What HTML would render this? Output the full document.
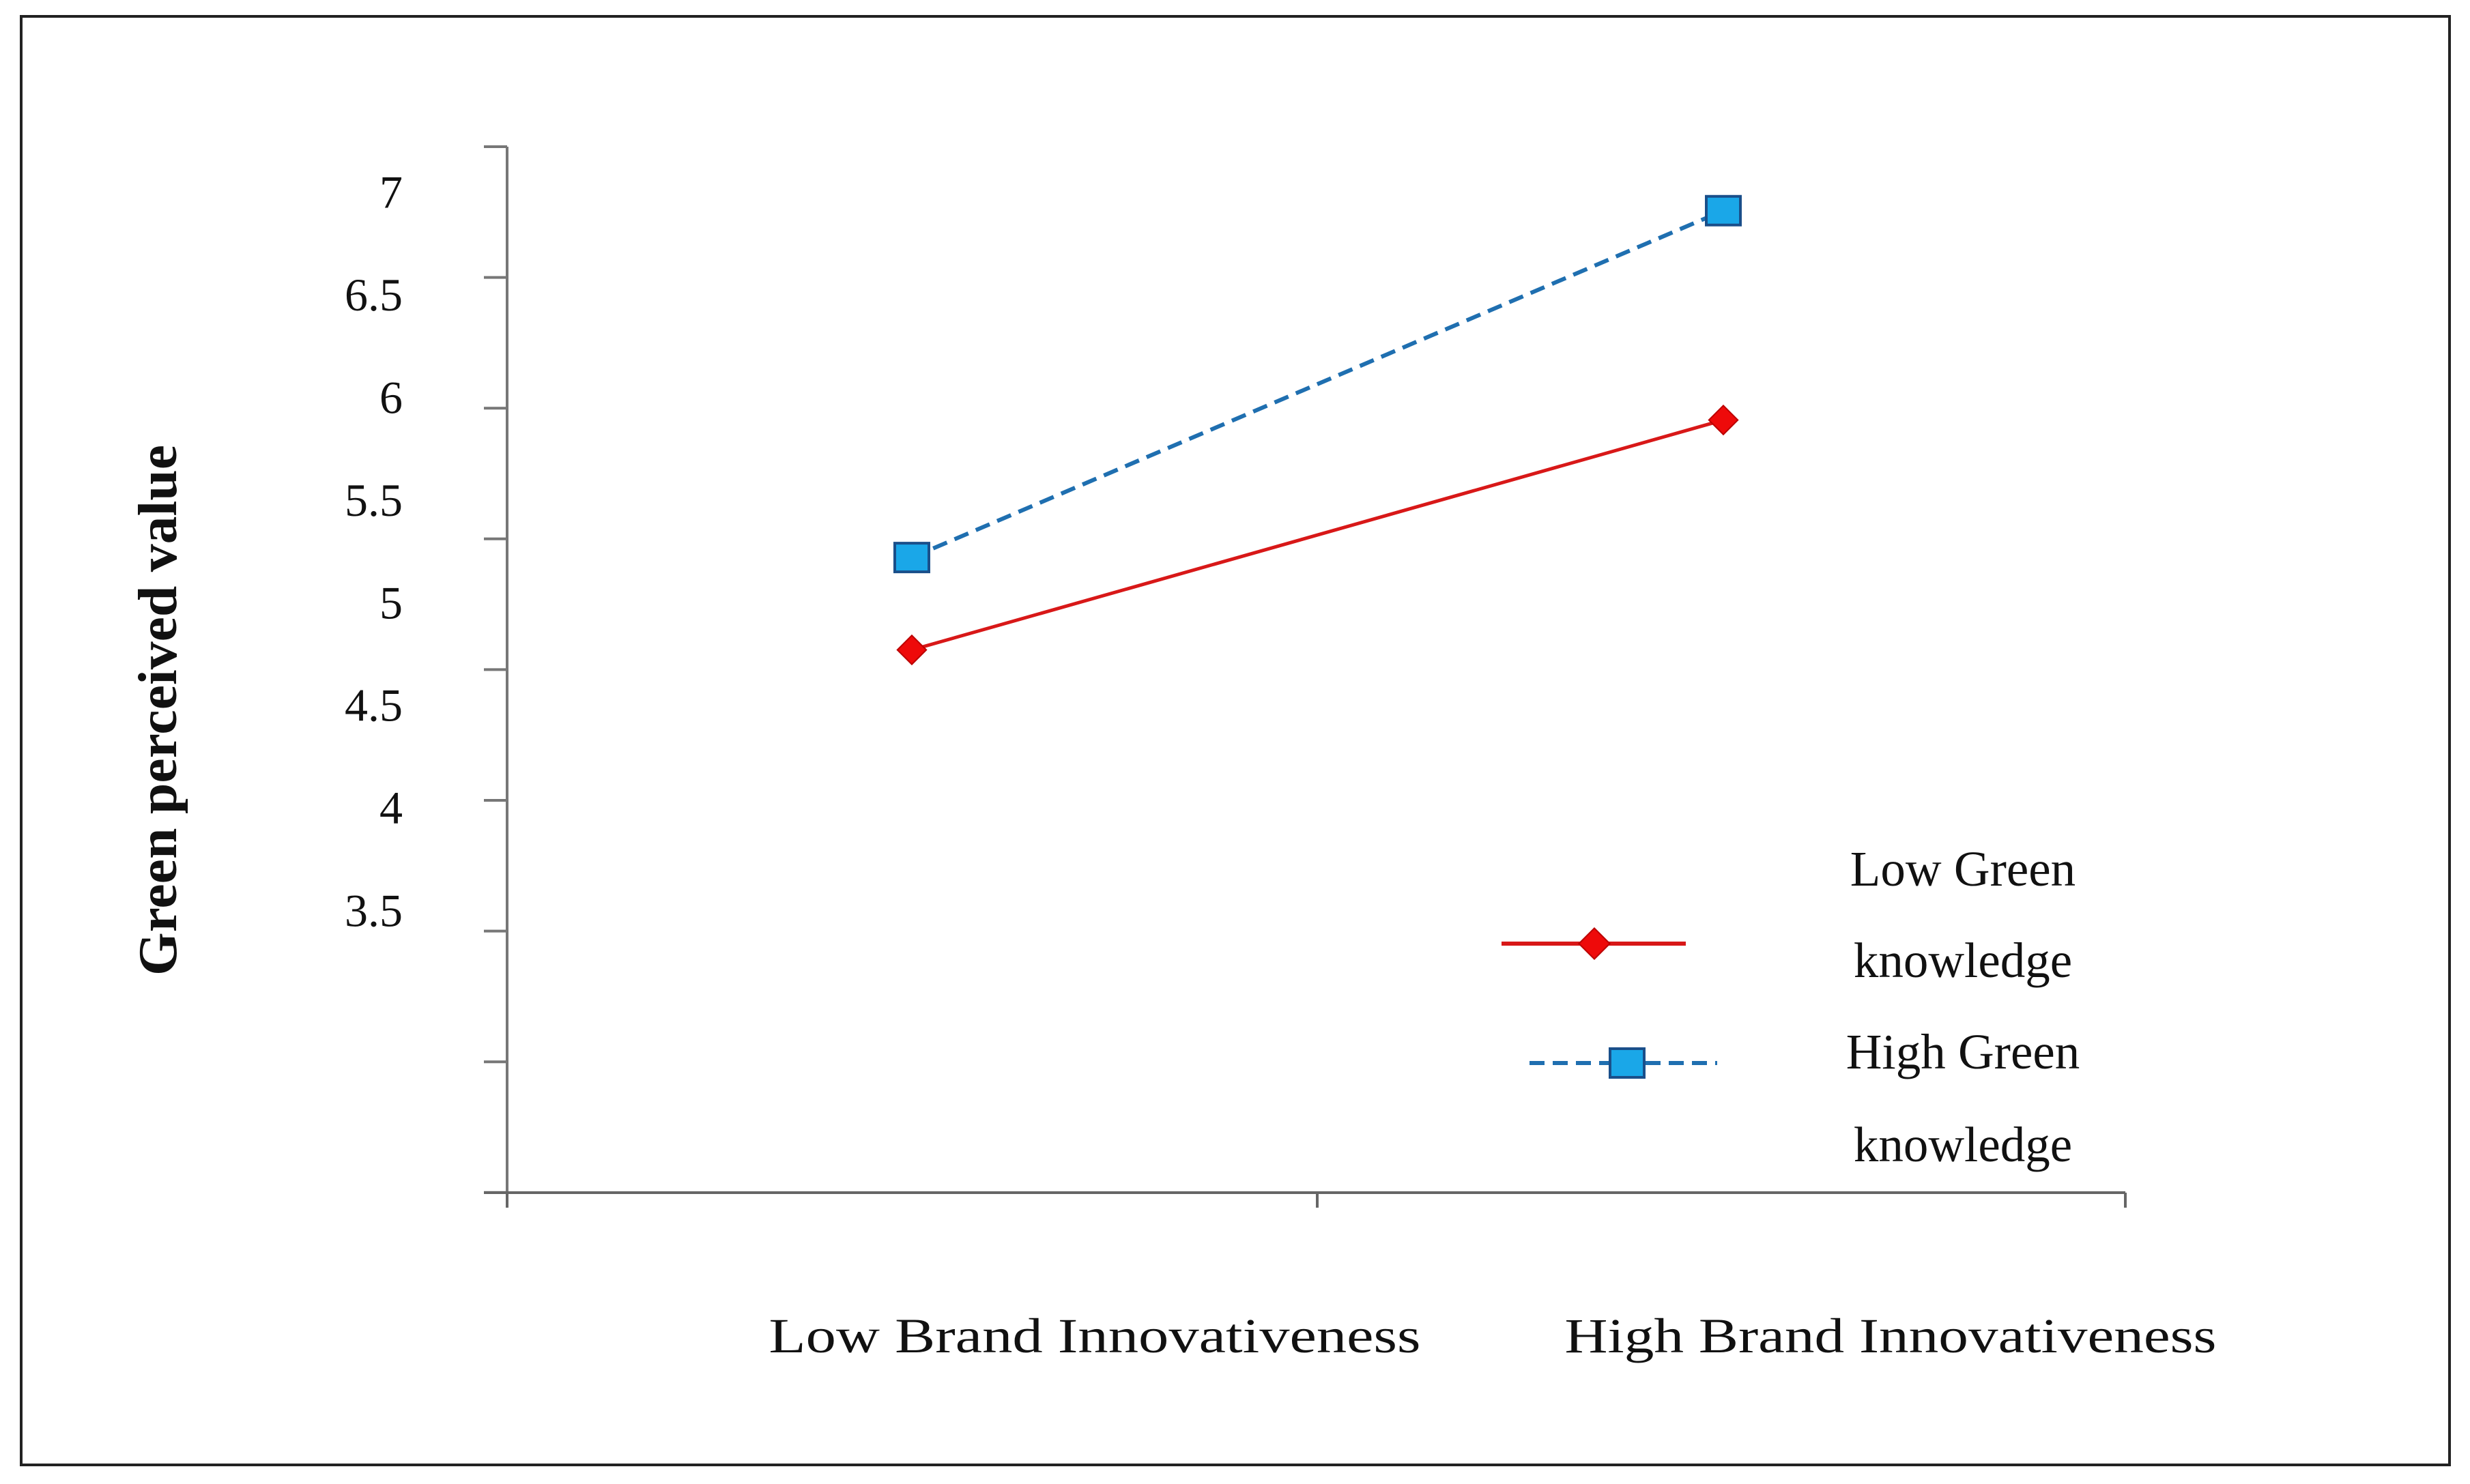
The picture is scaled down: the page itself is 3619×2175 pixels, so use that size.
<!DOCTYPE html>
<html><head><meta charset="utf-8"><style>
html,body{margin:0;padding:0;background:#fff;}
svg{display:block;font-family:"Liberation Serif",serif;}
</style></head><body>
<svg id="chart" width="3619" height="2175" viewBox="0 0 3619 2175" xmlns="http://www.w3.org/2000/svg">
<rect x="31" y="24" width="3558" height="2123" fill="#fff" stroke="#222" stroke-width="4"/>
<g id="axes"></g>
<g id="series"></g>
<text transform="translate(258,1041) rotate(-90)" text-anchor="middle" font-size="80" font-weight="bold" fill="#111" textLength="778" lengthAdjust="spacingAndGlyphs">Green perceived value</text>
<g>
  <line x1="2200" y1="1383" x2="2470" y2="1383" stroke="#d81818" stroke-width="6"/>
  <rect x="2320" y="1367" width="32" height="32" fill="#ee0a0a" stroke="#b00" stroke-width="2" transform="rotate(45 2336 1383)"/>
  <line x1="2241" y1="1558" x2="2516" y2="1558" stroke="#1f6fb0" stroke-width="6" stroke-dasharray="22,12"/>
  <rect x="2359" y="1537" width="50" height="42" fill="#1aa7e8" stroke="#1a4f8a" stroke-width="4"/>
  <text x="2876" y="1298" text-anchor="middle" font-size="73" fill="#111">Low Green</text>
  <text x="2876" y="1432" text-anchor="middle" font-size="73" fill="#111">knowledge</text>
  <text x="2876" y="1566" text-anchor="middle" font-size="73" fill="#111">High Green</text>
  <text x="2876" y="1702" text-anchor="middle" font-size="73" fill="#111">knowledge</text>
</g>
</svg>
<script>
const categories = ["Low Brand Innovativeness", "High Brand Innovativeness"];
const lowGreen = [4.77, 5.89];
const highGreen = [5.22, 6.91];
const tickLabels = ["7", "6.5", "6", "5.5", "5", "4.5", "4", "3.5"];
const tickValues = [7, 6.5, 6, 5.5, 5, 4.5, 4, 3.5];

const NS = "http://www.w3.org/2000/svg";
function yScale(v) { return 281.7 + (7 - v) * 300.8; }
function xPoint(i) { return 1336 + i * 1189; }
function xLabel(i) { return 1604 + i * 1166; }
function mk(tag, attrs, parent) {
  const e = document.createElementNS(NS, tag);
  for (const k in attrs) e.setAttribute(k, attrs[k]);
  parent.appendChild(e);
  return e;
}
const axes = document.getElementById("axes");
const series = document.getElementById("series");

let ya = mk("line", {x1: 743, y1: 215, x2: 743, y2: 1748, stroke: "#777", "stroke-width": 4}, axes);


for (let k = 0; k < 9; k++) {
  const yy = 215 + k * 191.6;
  const t = mk("line", {x1: 709, y1: yy, x2: 743, y2: yy, stroke: "#777", "stroke-width": 4}, axes);
  
  
}
let xa = mk("line", {x1: 709, y1: 1748, x2: 3114, y2: 1748, stroke: "#666", "stroke-width": 4}, axes);


[743, 1930, 3114].forEach(function (xx) {
  const t = mk("line", {x1: xx, y1: 1748, x2: xx, y2: 1770, stroke: "#666", "stroke-width": 4}, axes);
  
  
});
tickLabels.forEach(function (lab, i) {
  const t = mk("text", {x: 590, y: yScale(tickValues[i]) + 23, "text-anchor": "end", "font-size": 68, fill: "#111"}, axes);
  t.textContent = lab;
  
  
});
categories.forEach(function (c, i) {
  const t = mk("text", {x: xLabel(i), y: 1982, "text-anchor": "middle", "font-size": 72, fill: "#111", textLength: 955, lengthAdjust: "spacingAndGlyphs"}, axes);
  t.textContent = c;
  
  
});

let hl = mk("line", {x1: xPoint(0), y1: yScale(highGreen[0]), x2: xPoint(1), y2: yScale(highGreen[1]), stroke: "#1f6fb0", "stroke-width": 6, "stroke-dasharray": "22,12"}, series);


let ll = mk("line", {x1: xPoint(0), y1: yScale(lowGreen[0]), x2: xPoint(1), y2: yScale(lowGreen[1]), stroke: "#d81818", "stroke-width": 5}, series);


highGreen.forEach(function (v, i) {
  const r = mk("rect", {x: xPoint(i) - 25, y: yScale(v) - 21, width: 50, height: 42, fill: "#1aa7e8", stroke: "#1a4f8a", "stroke-width": 4}, series);
  
  
});
lowGreen.forEach(function (v, i) {
  const cx = xPoint(i), cy = yScale(v);
  const r = mk("rect", {x: cx - 15, y: cy - 15, width: 30, height: 30, fill: "#ee0a0a", stroke: "#b00", "stroke-width": 2, transform: "rotate(45 " + cx + " " + cy + ")"}, series);
  
  
});
</script>
</body></html>
